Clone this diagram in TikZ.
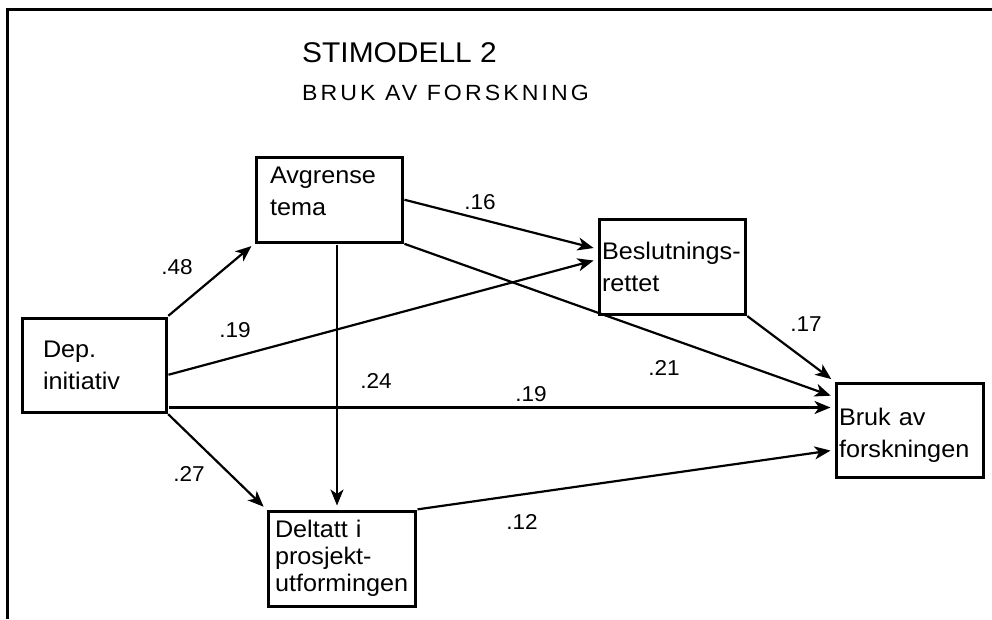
\documentclass[tikz,border=0pt]{standalone}
\usepackage{fontspec}
\setmainfont{Liberation Sans}[FakeStretch=1.05]
\usetikzlibrary{arrows.meta}

\tikzset{
  box/.style={draw, line width=3pt, rectangle, align=left, inner ysep=0pt,
    font=\fontsize{24}{32}\selectfont},
  pil/.style={-{Stealth[length=16pt,width=13pt,inset=4.5pt]}, line width=2.2pt,
    shorten >=4pt, shorten <=1pt},
  koef/.style={font=\fontsize{21.5}{24}\selectfont, inner sep=0pt},
}

\begin{document}
\begin{tikzpicture}[x=1pt,y=-1pt]
  \useasboundingbox (0,0) rectangle (992,619);

  % Frame
  \draw[line width=3pt] (7,619) -- (7,9) -- (992,9);

  % Title
  \node[anchor=base west, inner sep=0pt, font=\fontsize{28.5}{30}\selectfont] (tittel) at (302,62) {STIMODELL 2};
  \node[anchor=base west, inner sep=0pt, font=\fontsize{22}{24}\selectfont\addfontfeature{LetterSpace=14}] (undertittel) at (302,100) {BRUK AV FORSKNING};

  % Boxes
  \node[box, text width=102pt, inner xsep=21pt, minimum height=94pt] (dep) at (94,365) {Dep.\\initiativ};
  \node[box, text width=118pt, inner xsep=14pt, minimum height=85pt] (tema) at (329,199.5) {Avgrense\\tema\rule[-17pt]{0pt}{0pt}};
  \node[box, text width=140pt, inner xsep=3pt, minimum height=95pt] (beslut) at (672,266.5) {Beslutnings-\\rettet};
  \node[box, text width=141pt, inner xsep=3pt, minimum height=94pt] (bruk) at (909.5,430) {\rule{0pt}{27pt}Bruk av\\forskningen};
  \node[box, text width=133pt, inner xsep=7pt, minimum height=95pt, font=\fontsize{24}{27}\selectfont] (deltatt) at (341.5,558.5) {Deltatt i\\prosjekt-\\utformingen};

  % Paths
  \draw[pil] (dep.north east) -- (tema.south west);
  \draw[pil] ([yshift=-10pt]dep.east) -- ([yshift=7pt]beslut.west);
  \draw[pil] ([yshift=-42.5pt]dep.east) -- ([yshift=-42.5pt]dep.east -| bruk.west);
  \draw[pil] (dep.south east) -- (deltatt.north west);
  \draw[pil] (tema.east) -- ([yshift=17.5pt]beslut.west);
  \draw[pil] (tema.south east) -- ([yshift=33pt]bruk.west);
  \draw[pil] ([xshift=8pt]tema.south) -- ([xshift=8pt]tema.south |- deltatt.north);
  \draw[pil] (beslut.south east) -- (bruk.north west);
  \draw[pil] (deltatt.north east) -- ([yshift=-20pt]bruk.west);

  % Coefficients
  \node[koef] (k48) at (177,267) {.48};
  \node[koef] (k19a) at (235,330) {.19};
  \node[koef] (k24) at (376,381) {.24};
  \node[koef] (k16) at (480,202) {.16};
  \node[koef] (k21) at (664,368) {.21};
  \node[koef] (k17) at (806,324) {.17};
  \node[koef] (k19b) at (531,394) {.19};
  \node[koef] (k27) at (189,474) {.27};
  \node[koef] (k12) at (522,522) {.12};
\end{tikzpicture}
\end{document}
